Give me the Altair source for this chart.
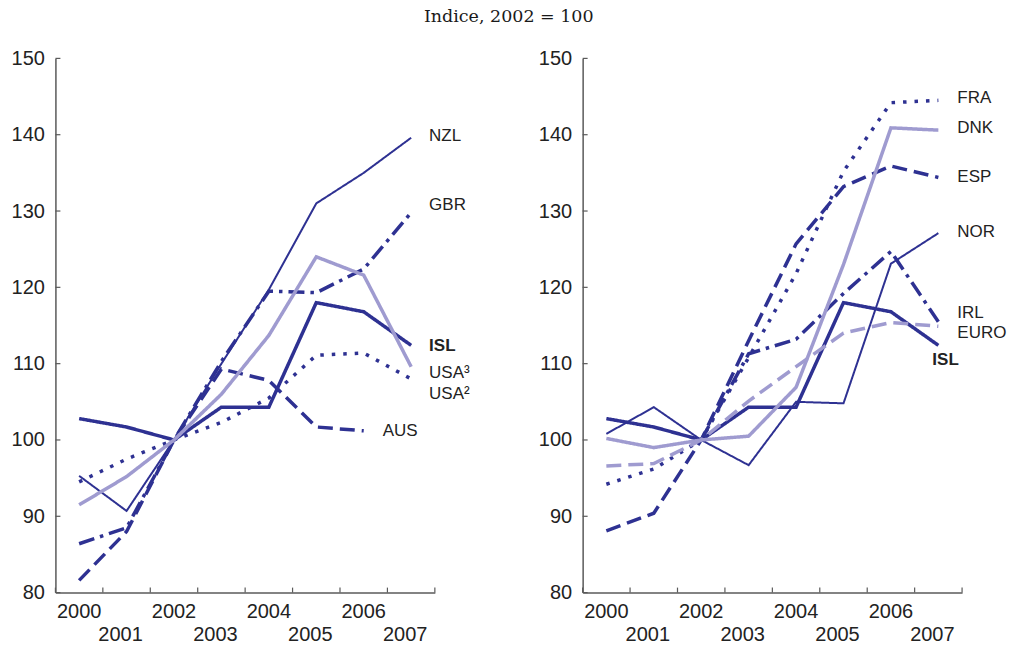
import altair as alt
import pandas as pd

# ---------------------------------------------------------------- data
years = [2000, 2001, 2002, 2003, 2004, 2005, 2006, 2007]

# Left panel
isl = [102.8, 101.7, 100.0, 104.3, 104.3, 118.0, 116.8, 112.4]
nzl = [95.3, 90.7, 100.0, 110.0, 119.7, 131.0, 135.0, 139.6]
gbr = [86.4, 88.5, 100.0, 110.3, 119.5, 119.3, 122.4, 129.8]
usa3 = [91.5, 95.2, 100.0, 106.0, 113.7, 124.0, 121.6, 109.6]
usa2 = [94.5, 97.5, 100.0, 102.3, 105.5, 111.1, 111.4, 108.0]
aus = [81.6, 88.0, 100.0, 109.3, 107.8, 101.7, 101.2, None]

# Right panel
fra = [94.2, 96.2, 100.0, 110.8, 121.8, 135.2, 144.2, 144.5]
dnk = [100.2, 99.0, 100.0, 100.5, 106.9, 123.0, 140.9, 140.6]
esp = [88.1, 90.4, 100.0, 113.0, 125.7, 133.2, 135.9, 134.4]
nor = [100.8, 104.3, 100.0, 96.7, 105.0, 104.8, 123.1, 127.1]
irl = [None, None, 100.0, 111.3, 113.2, 119.2, 124.7, 115.5]
euro = [96.6, 96.9, 100.0, 105.1, 109.6, 114.0, 115.4, 114.9]

y_ticks = [80, 90, 100, 110, 120, 130, 140, 150]
x_edges = [1999.5, 2000.5, 2001.5, 2002.5, 2003.5, 2004.5, 2005.5, 2006.5, 2007.5]
row1_years = [2000, 2002, 2004, 2006]
row2_years = [2001, 2003, 2005, 2007]

# ---------------------------------------------------------------- styles
DARK = "#2e3192"
LIGHT = "#9f9bd0"
AXIS = "#5a5a5a"
TEXT = "#222222"
FONT = "Liberation Sans"

SOLID = [1, 0]
DOT = [3.5, 8]
DASH = [15, 7]
DASHDOT = [16, 6, 3.5, 6]

W, H = 380, 535

x_enc = alt.X(
    "year:Q",
    scale=alt.Scale(domain=[1999.5, 2007.5], nice=False, zero=False),
    axis=alt.Axis(labels=False, ticks=False, grid=False, title=None,
                  domainColor=AXIS, domainWidth=1.5),
)
y_enc = alt.Y(
    "value:Q",
    scale=alt.Scale(domain=[80, 150], nice=False, zero=False),
    axis=alt.Axis(values=y_ticks, ticks=False, tickSize=0, grid=False, title=None,
                  labelFont=FONT, labelFontSize=20, labelColor=TEXT,
                  labelPadding=11, domainColor=AXIS, domainWidth=1.5),
)


def series_layer(values, color, width, dash):
    df = pd.DataFrame({"year": years, "value": values}).dropna()
    return alt.Chart(df).mark_line(
        color=color, strokeWidth=width, strokeDash=dash, strokeCap="butt",
        strokeJoin="miter", clip=False,
    ).encode(x=x_enc, y=y_enc)


def label_layer(rows):
    df = pd.DataFrame(rows, columns=["year", "value", "text", "dx"])
    layers = []
    for _, r in df.iterrows():
        layers.append(
            alt.Chart(pd.DataFrame([r])).mark_text(
                align="left", baseline="middle", font=FONT, fontSize=17,
                color=TEXT, dx=float(r["dx"]),
                fontWeight="bold" if r["text"] == "ISL" else "normal",
            ).encode(x=x_enc, y=y_enc, text="text:N")
        )
    return layers


def frame_layers():
    ticks_x = alt.Chart(pd.DataFrame({"year": x_edges})).mark_rule(
        color=AXIS, strokeWidth=1.2
    ).encode(x=x_enc, y=alt.value(H - 5), y2=alt.value(H))
    ticks_y = alt.Chart(pd.DataFrame({"value": y_ticks})).mark_rule(
        color=AXIS, strokeWidth=1.2
    ).encode(y=y_enc, x=alt.value(0), x2=alt.value(5))
    row1 = alt.Chart(pd.DataFrame({"year": row1_years, "lab": [str(v) for v in row1_years]})).mark_text(
        font=FONT, fontSize=20, color=TEXT, baseline="middle", align="center"
    ).encode(x=x_enc, y=alt.value(H + 19), text="lab:N")
    row2 = alt.Chart(pd.DataFrame({"year": row2_years, "lab": [str(v) for v in row2_years]})).mark_text(
        font=FONT, fontSize=20, color=TEXT, baseline="middle", align="center", dx=-6
    ).encode(x=x_enc, y=alt.value(H + 42), text="lab:N")
    return [ticks_x, ticks_y, row1, row2]


left = alt.layer(
    *frame_layers(),
    series_layer(nzl, DARK, 2, SOLID),
    series_layer(gbr, DARK, 3.5, DASHDOT),
    series_layer(aus, DARK, 3.5, DASH),
    series_layer(usa2, DARK, 3.5, DOT),
    series_layer(isl, DARK, 3.5, SOLID),
    series_layer(usa3, LIGHT, 3.5, SOLID),
    *label_layer([
        (2007, 139.8, "NZL", 18),
        (2007, 130.8, "GBR", 18),
        (2007, 112.3, "ISL", 18),
        (2007, 108.8, "USA³", 18),
        (2007, 106.0, "USA²", 18),
        (2006, 101.2, "AUS", 19),
    ]),
).properties(width=W, height=H)

right = alt.layer(
    *frame_layers(),
    series_layer(nor, DARK, 2, SOLID),
    series_layer(fra, DARK, 3.5, DOT),
    series_layer(esp, DARK, 3.5, DASH),
    series_layer(irl, DARK, 3.5, DASHDOT),
    series_layer(isl, DARK, 3.5, SOLID),
    series_layer(euro, LIGHT, 3.5, DASH),
    series_layer(dnk, LIGHT, 3.5, SOLID),
    *label_layer([
        (2007, 144.8, "FRA", 19),
        (2007, 140.9, "DNK", 19),
        (2007, 134.5, "ESP", 19),
        (2007, 127.3, "NOR", 19),
        (2007, 116.6, "IRL", 19),
        (2007, 114.0, "EURO", 19),
        (2007, 110.5, "ISL", -6),
    ]),
).properties(width=W, height=H)

chart = alt.hconcat(left, right, spacing=148, bounds="flush").properties(
    title=alt.TitleParams(
        "Indice, 2002 = 100", font="DejaVu Serif", fontSize=17.5,
        fontWeight="normal", color="#1a1a1a", anchor="middle", offset=23,
    ),
    padding={"left": 10.5, "top": 7, "right": 5, "bottom": 5},
    background="white",
).configure_view(strokeWidth=0)

chart.save("out.html", embed_options={"renderer": "svg", "actions": False})
